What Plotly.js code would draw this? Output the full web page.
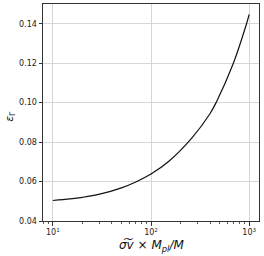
<!DOCTYPE html>
<html>
<head>
<meta charset="utf-8">
<script src="https://cdn.plot.ly/plotly-3.0.1.min.js"></script>
<style>html,body{margin:0;padding:0;background:#fff;}#chart{width:264px;height:256px;}</style>
</head>
<body>
<div id="chart"></div>
<script>
// Data
const xValues = [10, 15, 20, 30, 50, 70, 100, 150, 260, 400, 460, 690, 940, 1000];
const epsValues = [0.0504, 0.0512, 0.0520, 0.0536, 0.0568, 0.0598, 0.0638, 0.0700, 0.0820, 0.0945, 0.1000, 0.1200, 0.1400, 0.1447];
const xTickVals = [10, 100, 1000];
const xTickText = ['10<sup>1</sup>', '10<sup>2</sup>', '10<sup>3</sup>'];
const xMinorTickVals = [8, 9, 20, 30, 40, 50, 60, 70, 80, 90, 200, 300, 400, 500, 600, 700, 800, 900];
const yTickVals = [0.04, 0.06, 0.08, 0.10, 0.12, 0.14];
const yTickText = ['0.04', '0.06', '0.08', '0.10', '0.12', '0.14'];

const font = 'DejaVu Sans, sans-serif';
const axisCommon = {
  showline: true, mirror: true, linecolor: '#333', linewidth: 1,
  ticks: 'outside', ticklen: 3.5, tickwidth: 1, tickcolor: '#333',
  gridcolor: '#d6d6d6', gridwidth: 1, zeroline: false,
  tickfont: {family: font, size: 8, color: '#222'}
};

const trace = {
  x: xValues, y: epsValues, type: 'scatter', mode: 'lines',
  line: {color: '#111', width: 1.2, shape: 'spline', smoothing: 1},
  hoverinfo: 'none'
};

const layout = {
  width: 264, height: 256,
  margin: {l: 43, r: 5, t: 4, b: 35},
  paper_bgcolor: '#fff', plot_bgcolor: '#fff',
  showlegend: false,
  xaxis: Object.assign({}, axisCommon, {
    type: 'log', range: [0.9, 3.1],
    tickmode: 'array', tickvals: xTickVals, ticktext: xTickText,
    minor: {tickmode: 'array', tickvals: xMinorTickVals, ticks: 'outside', ticklen: 2, tickwidth: 0.8, tickcolor: '#333', showgrid: false}
  }),
  yaxis: Object.assign({}, axisCommon, {
    range: [0.04, 0.15],
    tickmode: 'array', tickvals: yTickVals, ticktext: yTickText
  }),
  annotations: [
    {text: '<i>σ\u0360v</i> × <i>M<sub>pl</sub>/M</i>', xref: 'paper', yref: 'paper',
     x: 0.5, y: 0, xanchor: 'center', yanchor: 'top', yshift: -15, showarrow: false,
     font: {family: font, size: 12, color: '#111'}},
    {text: '<i>ε</i><sub>Γ</sub>', xref: 'paper', yref: 'paper',
     x: 0, y: 0.48, xanchor: 'center', yanchor: 'middle', xshift: -33, textangle: -90, showarrow: false,
     font: {family: font, size: 11, color: '#111'}}
  ]
};

Plotly.newPlot('chart', [trace], layout, {staticPlot: true, displayModeBar: false});
</script>
</body>
</html>
